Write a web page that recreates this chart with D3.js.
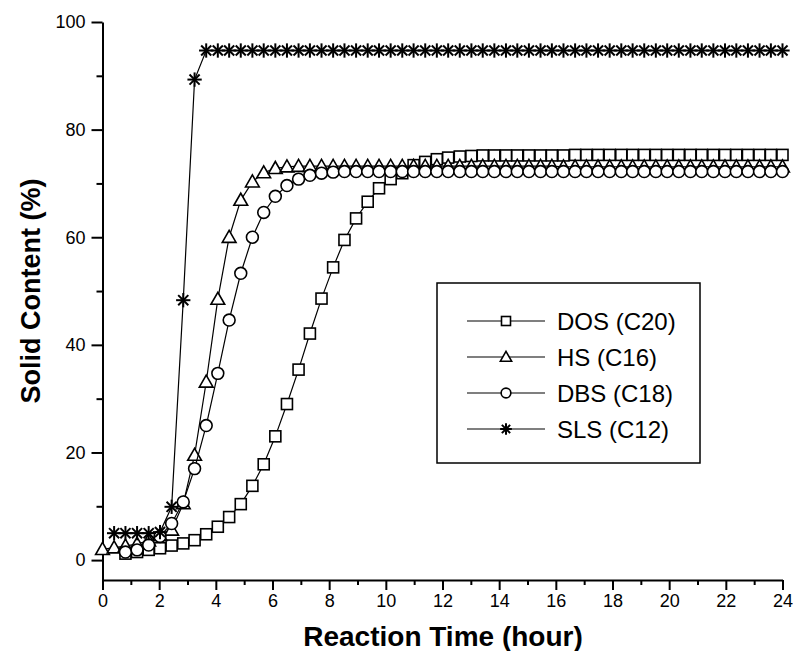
<!DOCTYPE html>
<html lang="en">
<head>
<meta charset="utf-8">
<script src="https://d3js.org/d3.v7.min.js"></script>
<style>
  body { margin: 0; background: #fff; }
  text { font-family: "Liberation Sans", Arial, sans-serif; fill: #000; }
</style>
</head>
<body>
<script>
// sampling times (hours), shared by all four runs
var hours = [0, 0.41, 0.81, 1.22, 1.63, 2.03, 2.44, 2.85, 3.25, 3.66,
  4.07, 4.47, 4.88, 5.29, 5.69, 6.10, 6.51, 6.92, 7.32, 7.73,
  8.14, 8.54, 8.95, 9.36, 9.76, 10.17, 10.58, 10.98, 11.39, 11.80,
  12.20, 12.61, 13.02, 13.42, 13.83, 14.24, 14.64, 15.05, 15.46, 15.86,
  16.27, 16.68, 17.08, 17.49, 17.90, 18.31, 18.71, 19.12, 19.53, 19.93,
  20.34, 20.75, 21.15, 21.56, 21.97, 22.37, 22.78, 23.19, 23.59, 24.00];

// solid content (%), null = no sample
var dos = [null, null, 1.2, 1.5, 1.9, 2.2, 2.7, 3.1, 3.7, 4.8,
  6.2, 8.0, 10.4, 13.8, 17.8, 23.0, 29.0, 35.4, 42.1, 48.6,
  54.4, 59.5, 63.5, 66.6, 69.1, 70.8, 71.9, 73.4, 74.0, 74.5,
  74.8, 75.0, 75.1, 75.2, 75.2, 75.2, 75.2, 75.2, 75.2, 75.2,
  75.2, 75.3, 75.3, 75.3, 75.3, 75.3, 75.3, 75.3, 75.3, 75.3,
  75.3, 75.3, 75.3, 75.3, 75.3, 75.3, 75.3, 75.3, 75.3, 75.3];
var hs = [2.0, 2.3, 2.6, 3.0, 3.6, 4.6, 5.6, 10.5, 19.5, 33.1,
  48.5, 60.0, 66.9, 70.3, 72.0, 72.8, 73.1, 73.2, 73.2, 73.2,
  73.2, 73.2, 73.2, 73.2, 73.2, 73.2, 73.2, 73.2, 73.2, 73.2,
  73.2, 73.2, 73.2, 73.2, 73.2, 73.2, 73.2, 73.2, 73.2, 73.2,
  73.1, 73.1, 73.1, 73.1, 73.1, 73.1, 73.1, 73.1, 73.1, 73.1,
  73.1, 73.1, 73.1, 73.1, 73.1, 73.1, 73.1, 73.1, 73.1, 73.1];
var dbs = [null, null, 1.5, 1.9, 2.8, 4.4, 6.8, 10.8, 17.0, 25.0,
  34.7, 44.6, 53.3, 60.0, 64.6, 67.6, 69.6, 70.8, 71.5, 71.9,
  72.1, 72.2, 72.2, 72.2, 72.2, 72.2, 72.2, 72.2, 72.2, 72.2,
  72.2, 72.2, 72.2, 72.2, 72.2, 72.2, 72.2, 72.2, 72.2, 72.2,
  72.2, 72.2, 72.2, 72.2, 72.2, 72.2, 72.2, 72.2, 72.2, 72.2,
  72.2, 72.2, 72.2, 72.2, 72.2, 72.2, 72.2, 72.2, 72.2, 72.2];
var sls = [null, 5.0, 5.0, 5.0, 5.0, 5.2, 9.9, 48.3, 89.3, 94.7,
  94.7, 94.7, 94.7, 94.7, 94.7, 94.7, 94.7, 94.7, 94.7, 94.7,
  94.7, 94.7, 94.7, 94.7, 94.7, 94.7, 94.7, 94.7, 94.7, 94.7,
  94.7, 94.7, 94.7, 94.7, 94.7, 94.7, 94.7, 94.7, 94.7, 94.7,
  94.7, 94.7, 94.7, 94.7, 94.7, 94.7, 94.7, 94.7, 94.7, 94.7,
  94.7, 94.7, 94.7, 94.7, 94.7, 94.7, 94.7, 94.7, 94.7, 94.7];

var seriesNames = ["DOS (C20)", "HS (C16)", "DBS (C18)", "SLS (C12)"];
var seriesShapes = ["square", "triangle", "circle", "star"];
var xTicks = [0, 2, 4, 6, 8, 10, 12, 14, 16, 18, 20, 22, 24];
var yTicks = [0, 20, 40, 60, 80, 100];

var width = 793, height = 651;

var svg = d3.select("body").append("svg")
    .attr("width", width)
    .attr("height", height);

var x = d3.scaleLinear().domain([0, 24]).range([102.5, 782.5]);
var y = d3.scaleLinear().domain([-3.7, 100]).range([580, 22]);

// axes
svg.append("g")
    .attr("transform", "translate(0," + y(-3.7) + ")")
    .call(d3.axisBottom(x).tickValues(xTicks).tickSize(10).tickSizeOuter(0).tickPadding(4));
svg.append("g")
    .attr("transform", "translate(0," + y(-3.7) + ")")
    .call(d3.axisBottom(x).tickValues(d3.range(1, 24, 2)).tickSize(5).tickFormat(""))
    .select(".domain").remove();

svg.append("g")
    .attr("transform", "translate(" + x(0) + ",0)")
    .call(d3.axisLeft(y).tickValues(yTicks).tickSize(11).tickSizeOuter(0).tickPadding(6));
svg.append("g")
    .attr("transform", "translate(" + x(0) + ",0)")
    .call(d3.axisLeft(y).tickValues([10, 30, 50, 70, 90]).tickSize(6).tickFormat(""))
    .select(".domain").remove();

svg.selectAll(".domain, .tick line")
    .attr("stroke", "#000")
    .attr("stroke-width", 2);
svg.selectAll(".tick text")
    .attr("font-size", 18)
    .attr("font-family", "Liberation Sans, Arial, sans-serif");

// axis titles
svg.append("text")
    .attr("x", 443)
    .attr("y", 646)
    .attr("text-anchor", "middle")
    .attr("font-size", 28)
    .attr("font-weight", "bold")
    .text("Reaction Time (hour)");

svg.append("text")
    .attr("transform", "translate(40," + y(50) + ") rotate(-90)")
    .attr("text-anchor", "middle")
    .attr("font-size", 27)
    .attr("font-weight", "bold")
    .text("Solid Content (%)");

// marker drawing
function drawMarker(g, shape, s) {
    if (shape == "square") {
        g.append("rect").attr("x", -s).attr("y", -s)
            .attr("width", 2 * s).attr("height", 2 * s)
            .attr("fill", "#fff").attr("stroke", "#000").attr("stroke-width", 1.6);
    } else if (shape == "triangle") {
        var h = s * 1.25;
        g.append("path")
            .attr("d", "M0," + (-h) + "L" + h + "," + (h * 0.75) + "L" + (-h) + "," + (h * 0.75) + "Z")
            .attr("fill", "#fff").attr("stroke", "#000").attr("stroke-width", 1.6);
    } else if (shape == "circle") {
        g.append("circle").attr("r", s * 1.08)
            .attr("fill", "#fff").attr("stroke", "#000").attr("stroke-width", 1.6);
    } else {
        var r = s * 1.3;
        [0, 45, 90, 135].forEach(function(a) {
            var rad = a * Math.PI / 180;
            g.append("line")
                .attr("x1", -r * Math.cos(rad)).attr("y1", -r * Math.sin(rad))
                .attr("x2", r * Math.cos(rad)).attr("y2", r * Math.sin(rad))
                .attr("stroke", "#000").attr("stroke-width", 2);
        });
    }
}

var allValues = [dos, hs, dbs, sls];

var line = d3.line()
    .defined(function(d) { return d.v != null; })
    .x(function(d) { return x(d.t); })
    .y(function(d) { return y(d.v); });

allValues.forEach(function(vals, k) {
    var pts = hours.map(function(t, i) { return { t: t, v: vals[i] }; });
    svg.append("path")
        .datum(pts)
        .attr("fill", "none")
        .attr("stroke", "#000")
        .attr("stroke-width", 1.2)
        .attr("d", line);
    svg.selectAll(".m" + k)
        .data(pts.filter(function(d) { return d.v != null; }))
        .enter().append("g")
        .attr("class", "m" + k)
        .attr("transform", function(d) { return "translate(" + x(d.t) + "," + y(d.v) + ")"; })
        .each(function() { drawMarker(d3.select(this), seriesShapes[k], 5.5); });
});

// legend
var legend = svg.append("g");
legend.append("rect")
    .attr("x", 437).attr("y", 283)
    .attr("width", 263).attr("height", 180)
    .attr("fill", "#fff")
    .attr("stroke", "#000")
    .attr("stroke-width", 1.5);

seriesNames.forEach(function(name, k) {
    var ly = 321 + k * 36;
    legend.append("line")
        .attr("x1", 467).attr("x2", 545)
        .attr("y1", ly).attr("y2", ly)
        .attr("stroke", "#000").attr("stroke-width", 1.2);
    var m = legend.append("g").attr("transform", "translate(506," + ly + ")");
    drawMarker(m, seriesShapes[k], 4.5);
    legend.append("text")
        .attr("x", 557).attr("y", ly)
        .attr("dy", "0.36em")
        .attr("font-size", 24)
        .text(name);
});
</script>
</body>
</html>
